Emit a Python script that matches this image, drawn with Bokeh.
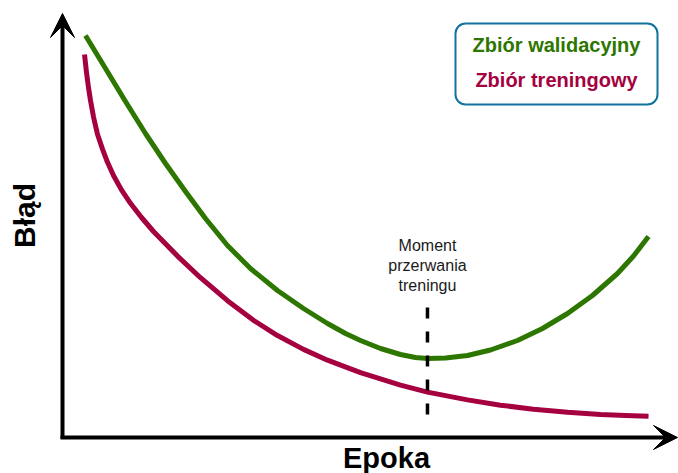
import math
from bokeh.plotting import figure
from bokeh.models import Range1d, Arrow, VeeHead, BoxAnnotation, Label
from bokeh.embed import file_html
from bokeh.resources import INLINE

# ---- data (epoch, error) ----
val_epoch = [3.83, 7.17, 10.5, 13.83, 17.17, 20.5, 23.83, 27.5, 31.33, 35.83, 40.17, 44.17,
             47.17, 49.67, 53.0, 56.33, 58.83, 60.83, 63.83, 67.5, 71.33, 75.83, 80.0,
             84.17, 88.33, 92.5, 95.17, 97.67]
val_error = [1.005, 0.9225, 0.84, 0.76, 0.685, 0.615, 0.5475, 0.48, 0.4225, 0.3675, 0.3225, 0.285,
             0.26, 0.2425, 0.2225, 0.2075, 0.2, 0.1975, 0.19875, 0.205, 0.21875, 0.2425, 0.2725,
             0.31, 0.355, 0.41, 0.45375, 0.5025]

train_epoch = [3.67, 4.0, 4.33, 4.67, 5.17, 5.83, 6.67, 7.5, 8.5, 9.83, 11.33, 13.17, 15.17,
               19.17, 23.0, 27.5, 31.83, 35.83, 40.17, 44.17, 49.67, 56.33, 60.83, 67.5,
               73.0, 78.5, 84.17, 89.67, 93.83, 97.67]
train_error = [0.9575, 0.9125, 0.875, 0.8425, 0.80125, 0.758, 0.721, 0.688, 0.655, 0.619, 0.5855,
               0.550, 0.515, 0.4535, 0.3995, 0.342, 0.293, 0.2548, 0.2203, 0.1933, 0.162, 0.131,
               0.1135, 0.094, 0.08075, 0.07075, 0.063, 0.0575, 0.055, 0.05325]

stop_epoch = 60.83

legend_labels = ["Zbiór walidacyjny", "Zbiór treningowy"]
stop_label = ["Moment", "przerwania", "treningu"]
x_label = "Epoka"
y_label = "Błąd"

GREEN = "#2D7600"
RED = "#A50040"
BLUE = "#10739E"
FONT = "Liberation Sans"

# layout helpers: page pixel -> data coordinates
def dx(px):
    return (px - 62) / 6.0

def dy(py):
    return (437 - py) / 400.0

p = figure(width=678, height=473, output_backend="svg", toolbar_location=None,
           x_range=Range1d(dx(0), dx(678)), y_range=Range1d(dy(473), dy(0)),
           min_border=0)
p.xaxis.visible = False
p.yaxis.visible = False
p.grid.visible = False
p.outline_line_color = None
p.background_fill_color = "white"
p.border_fill_color = "white"

# axes with arrows
p.add_layout(Arrow(x_start=dx(62), y_start=dy(438), x_end=dx(62), y_end=dy(13),
                   line_color="black", line_width=4,
                   end=VeeHead(size=24, fill_color="black", line_color="black", line_width=1)))
p.add_layout(Arrow(x_start=dx(60), y_start=dy(437), x_end=dx(677), y_end=dy(437),
                   line_color="black", line_width=4,
                   end=VeeHead(size=24, fill_color="black", line_color="black", line_width=1)))

# curves
p.line(val_epoch, val_error, line_color=GREEN, line_width=5, line_cap="butt", line_join="round")
p.line(train_epoch, train_error, line_color=RED, line_width=5, line_cap="butt", line_join="round")

# early stopping marker
p.line([stop_epoch, stop_epoch], [dy(307), dy(415)], line_color="black", line_width=3.5,
       line_dash="11 13")

for i, t in enumerate(stop_label):
    p.add_layout(Label(x=stop_epoch, y=dy(244.5 + 20 * i), text=t, text_align="center",
                       text_baseline="alphabetic", text_font=FONT, text_font_size="16px",
                       text_color="#1a1a1a"))

# legend box
p.add_layout(BoxAnnotation(left=dx(455), right=dx(657), top=dy(23), bottom=dy(104),
                           fill_color="white", fill_alpha=1.0, line_color=BLUE,
                           line_alpha=1.0, line_width=2, border_radius=10))
for t, c, yb in zip(legend_labels, [GREEN, RED], [44.5, 79.5]):
    p.add_layout(Label(x=dx(556), y=dy(yb), text=t, text_align="center",
                       text_baseline="alphabetic", text_font=FONT, text_font_size="20px",
                       text_font_style="bold", text_color=c))

# axis titles
p.add_layout(Label(x=dx(386), y=dy(457), text=x_label, text_align="center",
                   text_baseline="alphabetic", text_font=FONT, text_font_size="29px",
                   text_font_style="bold", text_color="black"))
p.add_layout(Label(x=dx(24), y=dy(215), text=y_label, text_align="center",
                   text_baseline="alphabetic", text_font=FONT, text_font_size="30px",
                   text_font_style="bold", text_color="black", angle=math.pi / 2))

open("out.html", "w").write(file_html(p, INLINE))
